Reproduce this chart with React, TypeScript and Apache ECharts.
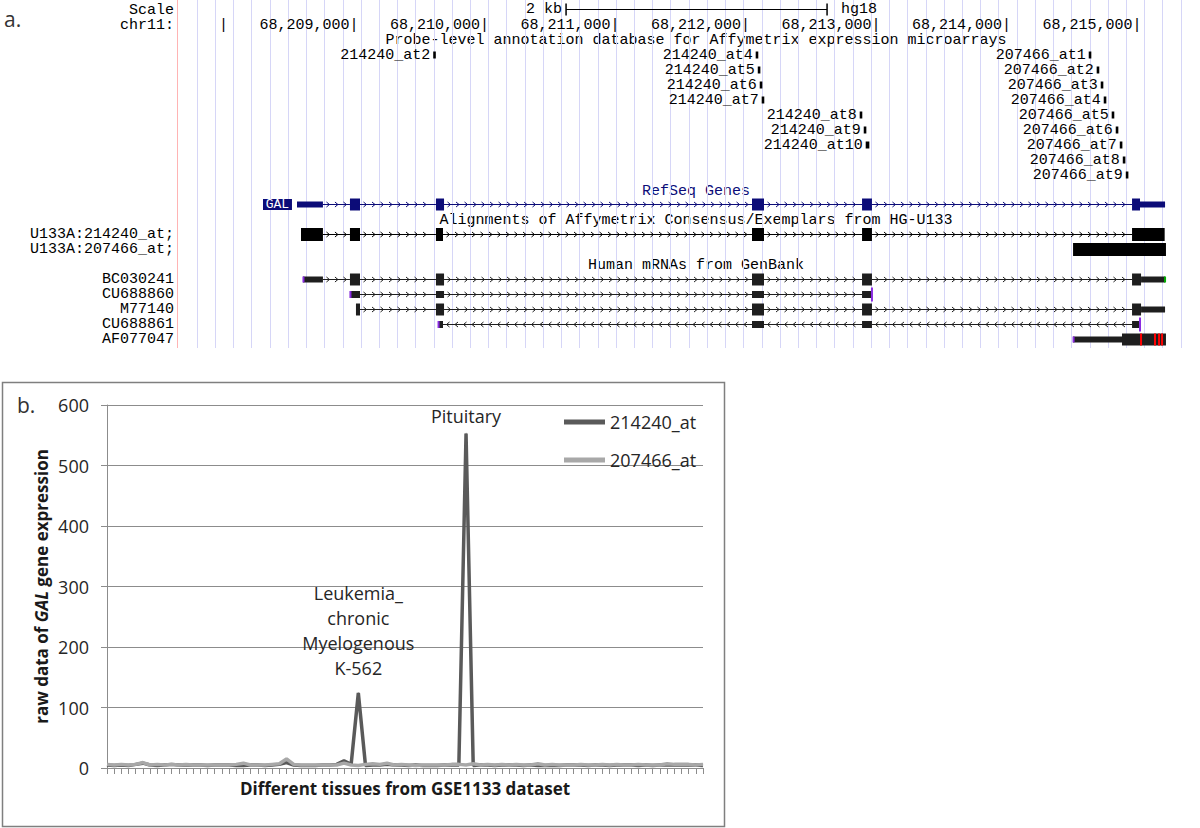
import React, { useEffect, useRef } from 'react';
import * as echarts from 'echarts';

// ---------------- Panel a (UCSC browser view) ----------------
const rulerTicks = [68208000, 68209000, 68210000, 68211000, 68212000, 68213000, 68214000, 68215000];
const scaleBar = [68210625, 68212625];
const scaleBarLabel = '2 kb';
const assemblyLabel = 'hg18';

const probeNames = [
  '214240_at2', '214240_at4', '214240_at5', '214240_at6', '214240_at7', '214240_at8', '214240_at9', '214240_at10',
  '207466_at1', '207466_at2', '207466_at3', '207466_at4', '207466_at5', '207466_at6', '207466_at7', '207466_at8', '207466_at9',
];
const probeStarts = [
  68209607, 68212078, 68212094, 68212109, 68212124, 68212875, 68212906, 68212921,
  68214630, 68214691, 68214722, 68214745, 68214806, 68214837, 68214868, 68214891, 68214914,
];
const probeEnds = [
  68209627, 68212098, 68212114, 68212129, 68212144, 68212895, 68212926, 68212949,
  68214650, 68214711, 68214742, 68214765, 68214826, 68214857, 68214888, 68214911, 68214934,
];
const probeRows = [3, 3, 4, 5, 6, 7, 8, 9, 3, 4, 5, 6, 7, 8, 9, 10, 11];

// blocks: [start, end, class]  f = full, m = medium, t = thin (UTR)
const galBlocks = [
  [68208563, 68208762, 't'], [68208969, 68209046, 'f'], [68209628, 68209690, 'f'],
  [68212050, 68212142, 'f'], [68212893, 68212969, 'f'], [68214962, 68215023, 'f'], [68215023, 68215215, 't'],
];
const u133a214240Blocks = [
  [68208594, 68208762, 'f'], [68208969, 68209046, 'f'], [68209628, 68209682, 'f'],
  [68212050, 68212142, 'f'], [68212893, 68212969, 'f'], [68214962, 68215212, 'f'],
];
const u133a207466Blocks = [[68214510, 68215222, 'f']];
const bc030241Blocks = [
  [68208609, 68208762, 't'], [68208969, 68209046, 'f'], [68209628, 68209690, 'f'],
  [68212050, 68212142, 'f'], [68212893, 68212969, 'f'], [68214962, 68215031, 'f'], [68215031, 68215215, 't'],
];
const cu688860Blocks = [
  [68208969, 68209046, 'm'], [68209628, 68209690, 'm'], [68212050, 68212142, 'm'], [68212893, 68212969, 'm'],
];
const m77140Blocks = [
  [68209015, 68209046, 'f'], [68209628, 68209690, 'f'], [68212050, 68212142, 'f'],
  [68212893, 68212969, 'f'], [68214962, 68215031, 'f'], [68215031, 68215215, 't'],
];
const cu688861Blocks = [
  [68209644, 68209682, 'm'], [68212050, 68212142, 'm'], [68212893, 68212969, 'm'], [68214962, 68215023, 'm'],
];
const af077047Blocks = [[68214510, 68214885, 't'], [68214885, 68215222, 'f']];
const af077047Mismatches = [68215031, 68215138, 68215169, 68215192];

const transcriptNames = ['GAL', 'U133A:214240_at;', 'U133A:207466_at;', 'BC030241', 'CU688860', 'M77140', 'CU688861', 'AF077047'];
const transcriptRows = [13, 15, 16, 18, 19, 20, 21, 22];
const transcriptKinds = ['refseq', 'affy', 'affy', 'mrna', 'mrna', 'mrna', 'mrna', 'mrna'];
const transcriptStrands = ['+', '+', '+', '+', '+', '+', '-', '+'];
const transcriptStartMarks = ['', '', '', 'p', 'p', '', 'p', 'p'];
const transcriptEndMarks = ['', '', '', 'g', 'P', '', 'P', ''];
const transcriptBlockSets = [galBlocks, u133a214240Blocks, u133a207466Blocks, bc030241Blocks, cu688860Blocks, m77140Blocks, cu688861Blocks, af077047Blocks];
const transcriptMismatchSets = [[], [], [], [], [], [], [], af077047Mismatches];

// ---------------- Panel b (line chart) ----------------
const series214240 = [
  5, 4, 5, 4, 6, 8, 5, 4, 5, 6,
  5, 5, 5, 5, 4, 5, 5, 5, 4, 4,
  5, 5, 4, 5, 6, 9, 5, 4, 4, 4,
  5, 5, 6, 12, 6, 124, 4, 5, 5, 6,
  5, 5, 4, 5, 4, 4, 4, 5, 5, 5,
  553, 4, 5, 5, 4, 5, 5, 5, 4, 5,
  4, 4, 4, 4, 5, 5, 5, 4, 5, 5,
  4, 5, 5, 5, 4, 5, 4, 5, 5, 5,
  5, 5, 5, 4,
];
const series207466 = [
  6, 5, 6, 5, 6, 9, 5, 6, 5, 6,
  5, 6, 5, 5, 5, 5, 5, 5, 6, 8,
  5, 5, 5, 6, 7, 15, 6, 5, 5, 5,
  5, 5, 5, 8, 5, 4, 6, 7, 6, 8,
  5, 6, 5, 4, 5, 5, 5, 5, 6, 6,
  5, 7, 5, 6, 5, 6, 5, 6, 5, 5,
  7, 5, 6, 5, 5, 5, 6, 5, 5, 6,
  5, 6, 5, 5, 6, 5, 5, 5, 7, 6,
  6, 6, 5, 6,
];
const tissueCategories = series214240.map((_, i) => String(i + 1));
const annotationIndices = [35, 50];
const annotationTexts = ['Leukemia_\nchronic\nMyelogenous\nK-562', 'Pituitary'];
const annotationDistances = [12, 4];

// ---------------- styling ----------------
const MONO = '15px "Liberation Mono", "DejaVu Sans Mono", monospace';
const SANS = '"Open Sans", "Noto Sans", sans-serif';
const BLOCK_H: any = { refseq: { f: 12, t: 6 }, affy: { f: 13 }, mrna: { f: 12, m: 7, t: 6 } };
const KIND_COLOR: any = { refseq: '#0c0c78', affy: '#000000', mrna: '#1e1e1e' };
const MARK_COLOR: any = { p: '#8a2be2', P: '#8a2be2', g: '#00b000' };
const LABEL_COL_X = 174;

function txt(text: string, x: number, y: number, align: string, fill: string, font = MONO) {
  return {
    type: 'text',
    style: { text, x, y, fill, font, textAlign: align, textVerticalAlign: 'middle', align, verticalAlign: 'middle' },
  };
}

function renderRuler(params: any, api: any) {
  const v = api.value(0);
  const p = api.coord([v, api.value(1)]);
  let label = v.toLocaleString('en-US') + '|';
  if (p[0] - label.length * 9 < 178) label = '|';
  if (p[0] < 180) label = '';
  return { type: 'group', children: [txt(label, p[0] + 4.5, p[1] + 1, 'right', '#000')] };
}

function renderScaleBar(params: any, api: any) {
  const p1 = api.coord([api.value(0), api.value(2)]);
  const p2 = api.coord([api.value(1), api.value(2)]);
  const y = Math.round(p1[1]) + 0.5;
  return {
    type: 'group',
    children: [
      { type: 'line', shape: { x1: p1[0], y1: y, x2: p2[0], y2: y }, style: { stroke: '#000', lineWidth: 1 } },
      { type: 'line', shape: { x1: p1[0], y1: y - 6, x2: p1[0], y2: y + 6 }, style: { stroke: '#000', lineWidth: 1.5 } },
      { type: 'line', shape: { x1: p2[0], y1: y - 6, x2: p2[0], y2: y + 6 }, style: { stroke: '#000', lineWidth: 1.5 } },
      txt(scaleBarLabel, p1[0] - 4, y, 'right', '#000'),
      txt(assemblyLabel, p2[0] + 14, y, 'left', '#000'),
    ],
  };
}

function renderProbe(params: any, api: any) {
  const i = api.value(3);
  const p1 = api.coord([api.value(0), api.value(2)]);
  const p2 = api.coord([api.value(1), api.value(2)]);
  const y = Math.round(p1[1]) + 1;
  return {
    type: 'group',
    children: [
      { type: 'rect', shape: { x: p1[0], y: y - 3.5, width: Math.max(p2[0] - p1[0], 2), height: 7 }, style: { fill: '#000' } },
      txt(probeNames[i], p1[0] - 3, y, 'right', '#000'),
    ],
  };
}

function renderTranscript(params: any, api: any) {
  const i = api.value(3);
  const kind = transcriptKinds[i];
  const blocks: any[] = transcriptBlockSets[i];
  const row = transcriptRows[i];
  const color = KIND_COLOR[kind];
  const px = (bp: number) => api.coord([bp, row])[0];
  const y = Math.round(api.coord([blocks[0][0], row])[1]) + 0.5;
  const dir = transcriptStrands[i] === '+' ? 1 : -1;
  const ch: any[] = [];
  for (let k = 0; k < blocks.length - 1; k++) {
    const a = px(blocks[k][1]);
    const b = px(blocks[k + 1][0]);
    if (b - a > 2) {
      ch.push({ type: 'line', shape: { x1: a, y1: y, x2: b, y2: y }, style: { stroke: color, lineWidth: 1 } });
      for (let x = a + 5; x <= b - 3; x += 8.5) {
        ch.push({
          type: 'polyline',
          shape: { points: [[x - 1.5 * dir, y - 2.5], [x + 1.5 * dir, y], [x - 1.5 * dir, y + 2.5]] },
          style: { stroke: color, fill: null, lineWidth: 1 },
        });
      }
    }
  }
  blocks.forEach((b) => {
    const h = BLOCK_H[kind][b[2]];
    const x1 = px(b[0]);
    const x2 = px(b[1]);
    ch.push({ type: 'rect', shape: { x: x1, y: y - h / 2, width: Math.max(x2 - x1, 1.5), height: h }, style: { fill: color } });
  });
  const sm = transcriptStartMarks[i];
  if (sm) {
    const h = sm === 'P' ? 14 : BLOCK_H[kind][blocks[0][2]];
    ch.push({ type: 'rect', shape: { x: px(blocks[0][0]) - 0.5, y: y - h / 2, width: 2, height: h }, style: { fill: MARK_COLOR[sm] } });
  }
  const em = transcriptEndMarks[i];
  if (em) {
    const last = blocks[blocks.length - 1];
    const h = em === 'P' ? 14 : BLOCK_H[kind][last[2]];
    ch.push({ type: 'rect', shape: { x: px(last[1]) - 1, y: y - h / 2, width: 2, height: h }, style: { fill: MARK_COLOR[em] } });
  }
  (transcriptMismatchSets[i] as number[]).forEach((m) => {
    ch.push({ type: 'rect', shape: { x: px(m) - 1, y: y - 6, width: 2, height: 12 }, style: { fill: '#ff0000' } });
  });
  if (kind === 'refseq') {
    const s = px(blocks[0][0]);
    ch.push({ type: 'rect', shape: { x: s - 34, y: y - 5.5, width: 29, height: 11 }, style: { fill: color } });
    ch.push(txt(transcriptNames[i], s - 19.5, y, 'center', '#ffffff', '13px "Liberation Mono", monospace'));
  } else {
    ch.push(txt(transcriptNames[i], LABEL_COL_X, y, 'right', '#000'));
  }
  return { type: 'group', children: ch };
}

function annotated(values: number[]) {
  return values.map((v, i) => {
    const k = annotationIndices.indexOf(i);
    if (k < 0) return v;
    return {
      value: v,
      symbol: 'circle',
      symbolSize: 1,
      label: {
        show: true,
        position: 'top',
        distance: annotationDistances[k],
        formatter: annotationTexts[k],
        fontFamily: SANS,
        fontSize: 18,
        lineHeight: 25,
        color: '#262626',
        align: 'center',
      },
    };
  });
}

const option: any = {
  animation: false,
  backgroundColor: '#ffffff',
  grid: [
    { left: 197, top: 0, width: 983.9, height: 348 },
    { left: 158.25, top: 1.5, width: 1030.95, height: 345 },
    { left: 107, top: 405, width: 596, height: 363 },
  ],
  xAxis: [
    {
      gridIndex: 0, type: 'value', min: 0, max: 54, interval: 1,
      axisLine: { show: false }, axisTick: { show: false }, axisLabel: { show: false },
      splitLine: { show: true, lineStyle: { color: '#d6d6f7', width: 1 } },
    },
    { gridIndex: 1, type: 'value', min: 68207500, max: 68215400, show: false },
    {
      gridIndex: 2, type: 'category', data: tissueCategories, boundaryGap: false,
      axisLine: { show: true, lineStyle: { color: '#8c8c8c', width: 1 } },
      axisTick: { show: true, interval: 0, length: 6, lineStyle: { color: '#8c8c8c' } },
      axisLabel: { show: false },
      name: 'Different tissues from GSE1133 dataset',
      nameLocation: 'middle', nameGap: 12,
      nameTextStyle: { fontFamily: SANS, fontWeight: 'bold', fontSize: 17, color: '#1a1a1a' },
    },
  ],
  yAxis: [
    { gridIndex: 0, type: 'value', min: 0, max: 1, show: false },
    { gridIndex: 1, type: 'value', min: -0.5, max: 22.5, inverse: true, show: false },
    {
      gridIndex: 2, type: 'value', min: 0, max: 600, interval: 100,
      axisLine: { show: true, lineStyle: { color: '#8c8c8c', width: 1 } },
      axisTick: { show: true, length: 6, lineStyle: { color: '#8c8c8c' } },
      splitLine: { show: true, lineStyle: { color: '#8c8c8c', width: 1 } },
      axisLabel: { margin: 18, fontFamily: SANS, fontSize: 18, color: '#262626' },
      name: '{n|raw data of }{i|GAL}{n| gene expression}',
      nameLocation: 'middle', nameGap: 57, nameRotate: 90,
      nameTextStyle: {
        rich: {
          n: { fontFamily: SANS, fontWeight: 'bold', fontSize: 17, color: '#1a1a1a' },
          i: { fontFamily: SANS, fontWeight: 'bold', fontStyle: 'italic', fontSize: 17, color: '#1a1a1a' },
        },
      },
    },
  ],
  legend: {
    orient: 'vertical', left: 559, top: 406, icon: 'rect', itemWidth: 41, itemHeight: 5, itemGap: 16,
    textStyle: { fontFamily: SANS, fontSize: 18, color: '#262626', lineHeight: 22 },
    data: ['214240_at', '207466_at'],
  },
  series: [
    { type: 'scatter', xAxisIndex: 0, yAxisIndex: 0, data: [], silent: true },
    {
      type: 'custom', xAxisIndex: 1, yAxisIndex: 1, clip: false, silent: true,
      renderItem: renderRuler, data: rulerTicks.map((v) => [v, 1]), encode: { x: 0, y: 1 },
    },
    {
      type: 'custom', xAxisIndex: 1, yAxisIndex: 1, clip: false, silent: true,
      renderItem: renderScaleBar, data: [[scaleBar[0], scaleBar[1], 0]], encode: { x: [0, 1], y: 2 },
    },
    {
      type: 'custom', xAxisIndex: 1, yAxisIndex: 1, clip: false, silent: true,
      renderItem: renderProbe, data: probeStarts.map((s, i) => [s, probeEnds[i], probeRows[i], i]), encode: { x: [0, 1], y: 2 },
    },
    {
      type: 'custom', xAxisIndex: 1, yAxisIndex: 1, clip: false, silent: true,
      renderItem: renderTranscript,
      data: transcriptBlockSets.map((b: any[], i) => [b[0][0], b[b.length - 1][1], transcriptRows[i], i]),
      encode: { x: [0, 1], y: 2 },
    },
    {
      type: 'line', name: '214240_at', xAxisIndex: 2, yAxisIndex: 2, data: annotated(series214240),
      symbol: 'none', showSymbol: true, showAllSymbol: true,
      lineStyle: { color: '#5a5a5a', width: 3.5 }, itemStyle: { color: '#5a5a5a' },
    },
    {
      type: 'line', name: '207466_at', xAxisIndex: 2, yAxisIndex: 2, data: series207466,
      symbol: 'none', lineStyle: { color: '#a8a8a8', width: 3.5 }, itemStyle: { color: '#a8a8a8' },
    },
  ],
  graphic: [
    { type: 'line', shape: { x1: 177.5, y1: 0, x2: 177.5, y2: 348 }, style: { stroke: '#ffb4b4', lineWidth: 1 } },
    { type: 'text', style: { text: 'a.', x: 4, y: 19, font: '21px ' + SANS, fill: '#333', textAlign: 'left', textVerticalAlign: 'middle' } },
    { type: 'text', style: { text: 'Scale', x: LABEL_COL_X, y: 10, font: MONO, fill: '#000', textAlign: 'right', textVerticalAlign: 'middle' } },
    { type: 'text', style: { text: 'chr11:', x: LABEL_COL_X, y: 25, font: MONO, fill: '#000', textAlign: 'right', textVerticalAlign: 'middle' } },
    { type: 'text', style: { text: 'Probe-level annotation database for Affymetrix expression microarrays', x: 696, y: 40, font: MONO, fill: '#000', textAlign: 'center', textVerticalAlign: 'middle' } },
    { type: 'text', style: { text: 'RefSeq Genes', x: 696, y: 191, font: MONO, fill: '#0c0c78', textAlign: 'center', textVerticalAlign: 'middle' } },
    { type: 'text', style: { text: 'Alignments of Affymetrix Consensus/Exemplars from HG-U133', x: 696, y: 220, font: MONO, fill: '#000', textAlign: 'center', textVerticalAlign: 'middle' } },
    { type: 'text', style: { text: 'Human mRNAs from GenBank', x: 696, y: 265, font: MONO, fill: '#000', textAlign: 'center', textVerticalAlign: 'middle' } },
    { type: 'rect', shape: { x: 2.5, y: 382.5, width: 722, height: 444 }, style: { fill: null, stroke: '#7f7f7f', lineWidth: 1.5 } },
    { type: 'text', style: { text: 'b.', x: 17, y: 405, font: '21px ' + SANS, fill: '#333', textAlign: 'left', textVerticalAlign: 'middle' } },
  ],
};

export default function App() {
  const ref = useRef<HTMLDivElement>(null);
  useEffect(() => {
    const chart = echarts.init(ref.current as HTMLDivElement, undefined, { renderer: 'svg' });
    chart.setOption(option);
    return () => chart.dispose();
  }, []);
  return (
    <div
      ref={ref}
      style={{ position: 'fixed', left: 0, top: 0, width: 1200, height: 828, background: '#ffffff' }}
    />
  );
}
